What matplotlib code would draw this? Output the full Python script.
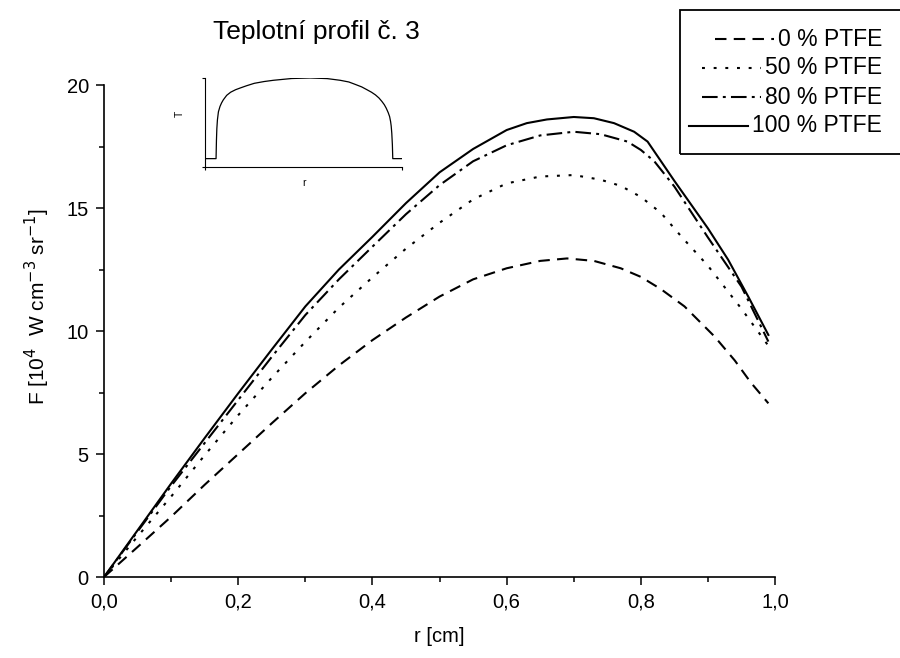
import matplotlib.pyplot as plt
from matplotlib.lines import Line2D
from matplotlib.patches import Rectangle
from matplotlib.ticker import MultipleLocator, FuncFormatter

plt.rcParams['font.family'] = ['Liberation Sans', 'DejaVu Sans']

# values
r_0 = [0.0, 0.05, 0.1, 0.15, 0.2, 0.25, 0.3, 0.35, 0.4, 0.45, 0.5, 0.55, 0.6, 0.65, 0.69,
       0.73, 0.77, 0.8, 0.83, 0.865, 0.91, 0.94, 0.964, 0.99]
f_0 = [0.0, 1.22, 2.45, 3.75, 5.0, 6.25, 7.47, 8.6, 9.63, 10.55, 11.4, 12.1, 12.55, 12.85, 12.95,
       12.85, 12.55, 12.2, 11.7, 11.0, 9.77, 8.8, 7.9, 7.06]

r_50 = [0.0, 0.05, 0.1, 0.15, 0.2, 0.25, 0.3, 0.35, 0.4, 0.45, 0.5, 0.55, 0.6, 0.65, 0.7,
        0.74, 0.77, 0.8, 0.83, 0.86, 0.9, 0.95, 0.99]
f_50 = [0.0, 1.65, 3.27, 4.95, 6.58, 8.1, 9.56, 10.95, 12.18, 13.35, 14.4, 15.35, 16.0, 16.28, 16.34,
        16.15, 15.9, 15.45, 14.8, 13.85, 12.65, 10.9, 9.4]

r_80 = [0.0, 0.05, 0.1, 0.15, 0.2, 0.25, 0.3, 0.35, 0.4, 0.45, 0.5, 0.55, 0.6, 0.65, 0.7,
        0.74, 0.78, 0.8, 0.82, 0.85, 0.9, 0.95, 0.99]
f_80 = [0.0, 1.85, 3.7, 5.45, 7.2, 8.95, 10.65, 12.1, 13.43, 14.75, 15.93, 16.9, 17.55, 17.95, 18.1,
        18.0, 17.7, 17.36, 16.9, 15.87, 13.8, 11.8, 9.57]

r_100 = [0.0, 0.05, 0.1, 0.15, 0.2, 0.25, 0.3, 0.35, 0.4, 0.45, 0.5, 0.55, 0.6, 0.63, 0.66, 0.7,
         0.73, 0.76, 0.79, 0.81, 0.85, 0.9, 0.93, 0.96, 0.99]
f_100 = [0.0, 1.9, 3.8, 5.65, 7.47, 9.25, 11.0, 12.5, 13.83, 15.2, 16.45, 17.4, 18.17, 18.45, 18.6, 18.7,
         18.65, 18.45, 18.1, 17.7, 16.1, 14.17, 12.9, 11.4, 9.84]

labels = ['0 % PTFE', '50 % PTFE', '80 % PTFE', '100 % PTFE']

# inset: temperature profile sketch
ins_x = [0.0, 0.056, 0.058, 0.06, 0.063, 0.068, 0.076, 0.084, 0.093, 0.11, 0.13, 0.155, 0.178, 0.21,
         0.25, 0.3, 0.347, 0.44, 0.534, 0.62, 0.686, 0.73, 0.76, 0.795, 0.822, 0.845, 0.865, 0.883,
         0.898, 0.91, 0.92, 0.93, 0.937, 0.942, 0.945, 0.948, 0.951, 0.953, 1.0]
ins_y = [0.094, 0.094, 0.3, 0.43, 0.53, 0.62, 0.68, 0.72, 0.755, 0.805, 0.84, 0.868, 0.887, 0.912,
         0.94, 0.96, 0.974, 0.994, 1.0, 0.993, 0.974, 0.955, 0.93, 0.9, 0.868, 0.84, 0.81, 0.775,
         0.736, 0.7, 0.66, 0.61, 0.566, 0.51, 0.46, 0.38, 0.25, 0.094, 0.094]

lw = 1.5
styles = [(0, (5.5, 3.5)), (0, (1.4, 4.2)), (0, (7.5, 2.5, 1.4, 2.5)), '-']

fig = plt.figure(figsize=(9, 6.58), dpi=100)
ax = fig.add_axes([0.1156, 0.1231, 0.7456, 0.7477])

series = [(r_0, f_0), (r_50, f_50), (r_80, f_80), (r_100, f_100)]
for (x, y), ls in zip(series, styles):
    ax.plot(x, y, color='black', lw=lw, linestyle=ls)

ax.set_xlim(0, 1.0)
ax.set_ylim(0, 20)
for s in ['top', 'right']:
    ax.spines[s].set_visible(False)
for s in ['left', 'bottom']:
    ax.spines[s].set_linewidth(1.2)
ax.xaxis.set_major_locator(MultipleLocator(0.2))
ax.xaxis.set_minor_locator(MultipleLocator(0.1))
ax.yaxis.set_major_locator(MultipleLocator(5))
ax.yaxis.set_minor_locator(MultipleLocator(2.5))
ax.xaxis.set_major_formatter(FuncFormatter(lambda v, p: f'{v:.1f}'.replace('.', ',')))
ax.tick_params(which='major', length=6, width=1.1, labelsize=14.5, direction='out', pad=5)
ax.tick_params(which='minor', length=3.5, width=1.1, direction='out')
ax.set_xlabel('r [cm]', fontsize=14.5, labelpad=11)
ax.set_ylabel('F [10$^4$  W cm$^{-3}$ sr$^{-1}$]', fontsize=15)
ax.yaxis.set_label_coords(-0.078, 0.55)

fig.text(0.352, 0.951, 'Teplotní profil č. 3', fontsize=19, ha='center', va='center')

# inset axes
ia = fig.add_axes([0.2278, 0.7462, 0.2189, 0.1353])
ia.plot(ins_x, ins_y, color='black', lw=0.9)
ia.set_xlim(0, 1)
ia.set_ylim(0, 1)
for s in ['top', 'right']:
    ia.spines[s].set_visible(False)
for s in ['left', 'bottom']:
    ia.spines[s].set_linewidth(0.8)
ia.set_xticks([0, 1])
ia.set_yticks([0, 1])
ia.set_xticklabels([])
ia.set_yticklabels([])
ia.tick_params(length=2.5, width=0.8, direction='out')
ia.set_xlabel('r', fontsize=7.5, labelpad=2)
ia.set_ylabel('T', fontsize=7.5)
ia.yaxis.set_label_coords(-0.1, 0.6)
ia.patch.set_alpha(0)

# legend box, Origin style, clipped at the right edge
W, H = 900, 658
fig.patches.append(Rectangle((680 / W, 1 - 154 / H), 230 / W, 144 / H,
                             transform=fig.transFigure, fill=False, lw=1.3,
                             edgecolor='black', clip_on=False))
row_y = [39, 68, 97, 126]
texts = []
for lab, yy in zip(labels, row_y):
    texts.append(fig.text(882 / W, 1 - yy / H, lab, fontsize=16.5, ha='right', va='center'))
fig.canvas.draw()
rend = fig.canvas.get_renderer()
for t, yy, ls in zip(texts, row_y, styles):
    x0 = t.get_window_extent(rend).x0
    fy = 1 - yy / H
    fig.lines.append(Line2D([(x0 - 63) / W, (x0 - 4) / W], [fy, fy],
                            transform=fig.transFigure, color='black', lw=lw, linestyle=ls))

fig.savefig('out.png', dpi=100)
